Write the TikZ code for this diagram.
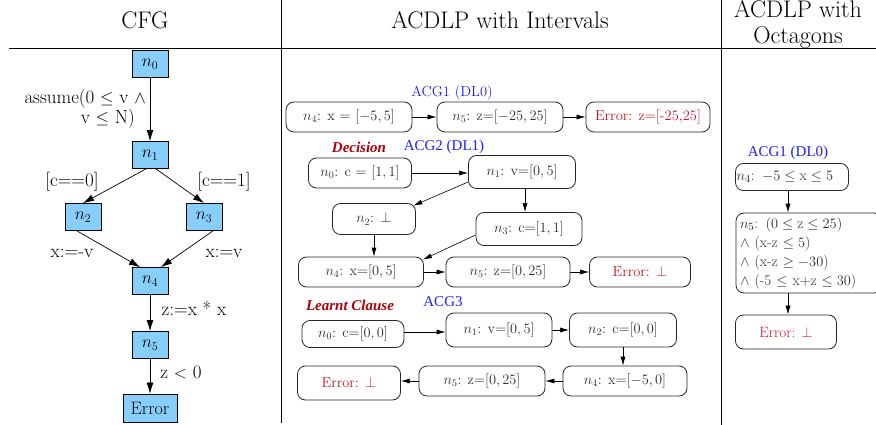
\documentclass[tikz,border=0pt]{standalone}
\usepackage{fontspec}
\newfontfamily\tmsfont{Liberation Serif}
\usetikzlibrary{arrows.meta,calc}
\definecolor{cfgblue}{RGB}{135,206,250}
\definecolor{acgblue}{RGB}{30,30,255}
\definecolor{errred}{RGB}{200,25,35}
\definecolor{decred}{RGB}{175,0,10}
\definecolor{ntext}{RGB}{45,45,45}
\begin{document}
\begin{tikzpicture}[x=1pt,y=-1pt,
  header/.style={font=\fontsize{24}{28}\selectfont, inner sep=0pt, anchor=base},
  cfgnode/.style={draw=black, fill=cfgblue, line width=0.8pt, minimum width=36pt, minimum height=27pt, inner sep=0pt, font=\fontsize{18}{20}\selectfont},
  cfglab/.style={font=\fontsize{19}{21}\selectfont, inner sep=0pt},
  cfgarrow/.style={-{Latex[length=11pt,width=7pt]}, line width=0.7pt},
  acg/.style={draw=black!85, rounded corners=8pt, line width=0.8pt, inner sep=0pt, font=\fontsize{14.5}{17}\selectfont, text=ntext},
  errnode/.style={acg, text=errred},
  acgarrow/.style={-{Latex[length=9pt,width=5pt]}, line width=0.6pt},
  acglab/.style={font=\tmsfont\fontsize{15}{17}\selectfont, text=acgblue, inner sep=0pt},
  declab/.style={font=\tmsfont\bfseries\itshape\fontsize{15}{17}\selectfont, text=decred, inner sep=0pt},
  sep/.style={line width=0.8pt}]
\useasboundingbox (0,0) rectangle (876,425);

% frame
\draw[sep] (9,48) -- (876,48);
\draw[sep] (281,0) -- (281,423);
\draw[sep] (721,0) -- (721,425);

% headers
\node[header] (hcfg) at (145,29) {CFG};
\node[header] (hint) at (500,29) {ACDLP with Intervals};
\node[header] (hoct1) at (798,17.5) {ACDLP with};
\node[header] (hoct2) at (798,44) {Octagons};

% CFG
\node[cfgnode] (c0) at (150,64) {$n_0$};
\node[cfgnode] (c1) at (150,155) {$n_1$};
\node[cfgnode] (c2) at (83,217) {$n_2$};
\node[cfgnode] (c3) at (204,217) {$n_3$};
\node[cfgnode] (c4) at (150,281) {$n_4$};
\node[cfgnode] (c5) at (150,345) {$n_5$};
\node[cfgnode, minimum width=54pt, minimum height=28pt] (cerr) at (150,408) {Error};

\draw[cfgarrow] (c0) -- (c1);
\draw[cfgarrow] ($(c1.south)+(-4,0)$) -- (c2.north);
\draw[cfgarrow] ($(c1.south)+(6,0)$) -- (c3.north);
\draw[cfgarrow] ($(c2.south)+(-6,0)$) -- ($(c4.north)+(-10,0)$);
\draw[cfgarrow] ($(c3.south)+(9,0)$) -- ($(c4.north)+(11,0)$);
\draw[cfgarrow] (c4) -- (c5);
\draw[cfgarrow] (c5) -- (cerr);

\node[cfglab, font=\fontsize{19}{18}\selectfont, align=right, anchor=east] (l01) at (146,109) {assume(0 $\le$ v $\wedge$\\v $\le$ N)\hspace*{11pt}};
\node[cfglab] (l12) at (72,182) {[c==0]};
\node[cfglab] (l13) at (224,182) {[c==1]};
\node[cfglab] (l24) at (72,253) {x:=-v};
\node[cfglab] (l34) at (224,253) {x:=v};
\node[cfglab] (l45) at (194,308) {z:=x * x};
\node[cfglab] (l5e) at (181,372) {z $<$ 0};

% ACG1
\node[acglab, font=\fontsize{14.5}{17}\selectfont] (t1) at (452,93) {ACG1 (DL0)};
\node[acg, minimum width=126pt, minimum height=30pt] (a1n4) at (349,117) {$n_4$: x = $[-5,5]$};
\node[acg, minimum width=126pt, minimum height=30pt] (a1n5) at (500,117) {$n_5$: z=$[-25,25]$};
\node[errnode, minimum width=124pt, minimum height=30pt] (a1err) at (648,117) {Error: z=[-25,25]};
\draw[acgarrow] (a1n4) -- (a1n5);
\draw[acgarrow] (a1n5) -- (a1err);

% ACG2
\node[declab] (d2) at (359,147) {Decision};
\node[acglab] (t2) at (444,147) {ACG2 (DL1)};
\node[acg, minimum width=103pt, minimum height=30pt] (a2n0) at (360,173) {$n_0$: c = $[1,1]$};
\node[acg, minimum width=107pt, minimum height=33pt] (a2n1) at (522,172) {$n_1$: v=$[0,5]$};
\node[acg, minimum width=83pt, minimum height=31pt] (a2n2) at (374,219) {$n_2$: $\bot$};
\node[acg, minimum width=106pt, minimum height=33pt] (a2n3) at (529,229) {$n_3$: c=$[1,1]$};
\node[acg, minimum width=125pt, minimum height=30pt] (a2n4) at (361,272) {$n_4$: x=$[0,5]$};
\node[acg, minimum width=124pt, minimum height=30pt] (a2n5) at (508,272) {$n_5$: z=$[0,25]$};
\node[errnode, minimum width=101pt, minimum height=30pt] (a2err) at (640,272) {Error: $\bot$};

\draw[acgarrow] (a2n0.east) -- (a2n0.east -| a2n1.west);
\draw[acgarrow] ($(a2n1.west)+(0,10)$) -- ($(a2n2.north east)+(-2.5,2.5)$);
\path ($(a2n1.south)+(3,0)$) coordinate (a2s);
\draw[acgarrow] (a2s) -- (a2s |- a2n3.north);
\draw[acgarrow] (a2n2.south) -- (a2n2.south |- a2n4.north);
\draw[acgarrow] ($(a2n3.west)+(0,6)$) -- ($(a2n4.north east)+(-1,3)$);
\draw[acgarrow] (a2n4) -- (a2n5);
\draw[acgarrow] (a2n5) -- (a2err);

% ACG3
\node[declab] (d3) at (350,305) {Learnt Clause};
\node[acglab] (t3) at (443,302) {ACG3};
\node[acg, minimum width=102pt, minimum height=27pt] (a3n0) at (353,334) {$n_0$: c=$[0,0]$};
\node[acg, minimum width=106pt, minimum height=34pt] (a3n1) at (499,330) {$n_1$: v=$[0,5]$};
\node[acg, minimum width=107pt, minimum height=34pt] (a3n2) at (623,330) {$n_2$: c=$[0,0]$};
\node[errnode, minimum width=103pt, minimum height=34pt] (a3err) at (349,383) {Error: $\bot$};
\node[acg, minimum width=126pt, minimum height=30pt] (a3n5) at (482,381) {$n_5$: z=$[0,25]$};
\node[acg, minimum width=124pt, minimum height=30pt] (a3n4) at (625,381) {$n_4$: x=$[-5,0]$};

\path ($(a3n0.east)+(0,-2)$) coordinate (a3e);
\draw[acgarrow] (a3e) -- (a3e -| a3n1.west);
\draw[acgarrow] (a3n1) -- (a3n2);
\draw[acgarrow] (a3n2.south) -- (a3n2.south |- a3n4.north);
\draw[acgarrow] (a3n4) -- (a3n5);
\draw[acgarrow] (a3n5.west) -- (a3n5.west -| a3err.east);

% Octagons
\node[acglab] (t4) at (788,153) {ACG1 (DL0)};
\node[acg, font=\fontsize{15}{19}\selectfont, minimum width=113pt, minimum height=27pt, text width=111pt, inner xsep=1pt, align=left] (o4) at (792,177) {$n_4$: $-5 \le \mathrm{x} \le 5$};
\node[acg, font=\fontsize{15}{19}\selectfont, minimum width=146pt, minimum height=80pt, text width=138pt, inner xsep=4pt, align=left] (o5) at (809,253) {$n_5$: $(0 \le \mathrm{z} \le 25)$\\$\wedge$ (x-z $\le 5$)\\$\wedge$ (x-z $\ge -30$)\\$\wedge$ (-5 $\le$ x+z $\le 30$)};
\node[errnode, font=\fontsize{15}{19}\selectfont, minimum width=101pt, minimum height=34pt] (oerr) at (786,332) {Error: $\bot$};
\path ($(oerr.north)+(2,0)$) coordinate (ox);
\draw[acgarrow] (ox |- o4.south) -- (ox |- o5.north);
\draw[acgarrow] (ox |- o5.south) -- (ox |- oerr.north);
\end{tikzpicture}
\end{document}
